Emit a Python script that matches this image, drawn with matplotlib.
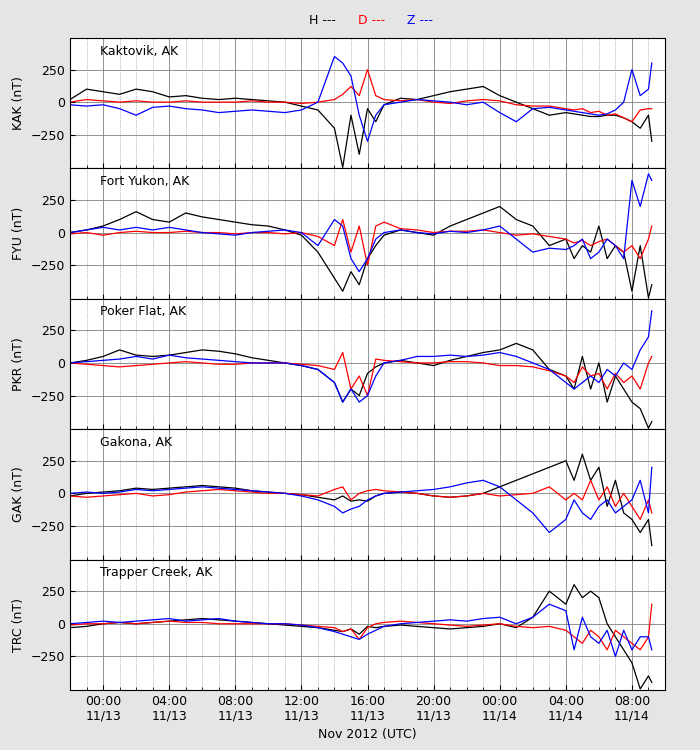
import matplotlib
matplotlib.use("Agg")
import matplotlib.pyplot as plt
from matplotlib.ticker import MultipleLocator

hours = [-2,-1,0,1,2,3,4,5,6,7,8,9,10,11,12,13,14,14.5,15,15.5,16,16.5,17,18,19,20,21,22,23,24,25,26,27,28,28.5,29,29.5,30,30.5,31,31.5,32,32.5,33,33.2]
tick_hours = [0,4,8,12,16,20,24,28,32]
tick_labels = ["00:00\n11/13","04:00\n11/13","08:00\n11/13","12:00\n11/13","16:00\n11/13","20:00\n11/13","00:00\n11/14","04:00\n11/14","08:00\n11/14"]
stations = ["KAK","FYU","PKR","GAK","TRC"]
names = ["Kaktovik, AK","Fort Yukon, AK","Poker Flat, AK","Gakona, AK","Trapper Creek, AK"]

kak_h = [20,100,80,60,100,80,40,50,30,20,30,20,10,0,-30,-60,-200,-500,-100,-400,-50,-150,-20,30,20,50,80,100,120,50,0,-50,-100,-80,-90,-100,-110,-110,-100,-100,-120,-150,-200,-100,-300]
kak_d = [0,20,10,0,10,0,0,10,0,0,0,10,0,0,-10,0,20,60,120,50,250,50,20,10,20,0,-10,10,20,10,-20,-30,-30,-50,-60,-50,-80,-70,-100,-90,-120,-150,-60,-50,-50]
kak_z = [-20,-30,-20,-50,-100,-40,-30,-50,-60,-80,-70,-60,-70,-80,-60,0,350,300,200,-100,-300,-100,-20,0,20,10,0,-20,0,-80,-150,-50,-40,-60,-70,-80,-90,-100,-90,-60,0,250,50,100,300]
fyu_h = [0,20,50,100,160,100,80,150,120,100,80,60,50,20,-20,-150,-350,-450,-300,-400,-200,-100,-20,20,0,-20,50,100,150,200,100,50,-100,-50,-200,-100,-150,50,-200,-100,-150,-450,-100,-500,-400]
fyu_d = [-10,0,-20,0,10,0,0,10,0,0,-10,0,0,-10,0,-30,-100,100,-150,50,-250,50,80,30,20,0,10,10,20,0,-20,-10,-30,-50,-80,-60,-100,-70,-50,-100,-150,-100,-200,-50,50]
fyu_z = [0,20,40,20,40,20,40,20,0,-10,-20,0,10,20,0,-100,100,50,-200,-300,-200,-50,0,20,0,-10,10,0,20,50,-50,-150,-120,-130,-100,-50,-200,-150,-50,-100,-200,400,200,450,400]
pkr_h = [0,20,50,100,60,50,60,80,100,90,70,40,20,0,-20,-50,-150,-300,-200,-250,-80,-30,0,20,0,-20,20,50,80,100,150,100,-50,-100,-200,50,-200,0,-300,-100,-200,-300,-350,-500,-450]
pkr_d = [0,-10,-20,-30,-20,-10,0,10,0,-10,-10,0,0,0,-10,-20,-50,80,-200,-100,-250,30,20,10,0,0,10,10,0,-20,-20,-30,-60,-100,-150,-30,-100,-80,-200,-80,-150,-100,-200,0,50]
pkr_z = [0,10,20,30,50,30,60,40,30,20,10,0,0,0,-20,-50,-150,-300,-200,-300,-250,-100,0,20,50,50,60,50,60,80,50,0,-50,-150,-200,-150,-100,-150,-50,-100,0,-50,100,200,400]
gak_h = [-20,0,10,20,40,30,40,50,60,50,40,20,10,0,-10,-30,-50,-20,-60,-50,-60,-20,0,10,0,-20,-30,-20,0,50,100,150,200,250,100,300,100,200,-100,100,-150,-200,-300,-200,-400]
gak_d = [-20,-30,-20,-10,0,-20,-10,10,20,30,20,10,0,0,-10,-20,30,50,-50,0,20,30,20,10,0,-20,-30,-20,0,-20,-10,0,50,-50,0,-50,100,-50,50,-100,0,-100,-200,-50,-150]
gak_z = [0,10,0,10,30,20,30,40,50,40,30,20,10,0,-20,-50,-100,-150,-120,-100,-50,-20,0,10,20,30,50,80,100,50,-50,-150,-300,-200,-50,-150,-200,-100,-50,-150,-100,-50,100,-150,200]
trc_h = [-30,-20,0,10,0,10,20,30,40,30,20,10,0,-10,-20,-30,-50,-60,-40,-80,-20,-30,-20,-10,-20,-30,-40,-30,-20,0,-30,50,250,150,300,200,250,200,0,-100,-200,-300,-500,-400,-450]
trc_d = [-10,0,0,10,0,10,20,10,10,0,0,0,0,0,-10,-20,-30,-60,-40,-120,-30,0,10,20,10,0,-10,-20,-10,0,-20,-30,-20,-50,-100,-150,-50,-100,-200,-50,-100,-150,-200,-100,150]
trc_z = [0,10,20,10,20,30,40,20,30,40,20,10,0,0,-10,-30,-60,-80,-100,-120,-80,-50,-20,0,10,20,30,20,40,50,0,50,150,100,-200,50,-100,-150,-50,-250,-50,-200,-100,-100,-200]

data = [(kak_h,kak_d,kak_z),(fyu_h,fyu_d,fyu_z),(pkr_h,pkr_d,pkr_z),(gak_h,gak_d,gak_z),(trc_h,trc_d,trc_z)]

fig = plt.figure(figsize=(7,7.5), dpi=100, facecolor="#e5e5e5")
top, bottom = 1-38/750, 1-690/750
ph = (top-bottom)/5
for i in range(5):
    ax = fig.add_axes([70/700, top-(i+1)*ph, 595/700, ph])
    h, d, z = data[i]
    ax.plot(hours, h, color="black", lw=0.9)
    ax.plot(hours, d, color="red", lw=0.9)
    ax.plot(hours, z, color="blue", lw=0.9)
    ax.set_xlim(-2, 34)
    ax.set_ylim(-508, 492)
    ax.set_yticks([-250,0,250])
    ax.set_xticks(tick_hours)
    ax.xaxis.set_minor_locator(MultipleLocator(1))
    ax.grid(True, which="major", color="gray", lw=0.6)
    ax.grid(True, which="minor", axis="x", color="gray", lw=0.5, ls=":")
    ax.set_axisbelow(True)
    ax.tick_params(labelsize=9, which="both", direction="in")
    ax.set_ylabel(f"{stations[i]} (nT)", fontsize=9)
    ax.text(0.05, 0.9, names[i], transform=ax.transAxes, fontsize=9, va="center")
    if i < 4:
        ax.set_xticklabels([])
    else:
        ax.set_xticklabels(tick_labels)
        ax.set_xlabel("Nov 2012 (UTC)", fontsize=9)

fig.text(322/700, 1-20/750, "H ---", color="black", fontsize=9, ha="center", va="center")
fig.text(372/700, 1-20/750, "D ---", color="red", fontsize=9, ha="center", va="center")
fig.text(420/700, 1-20/750, "Z ---", color="blue", fontsize=9, ha="center", va="center")
fig.savefig("out.png", facecolor=fig.get_facecolor())
